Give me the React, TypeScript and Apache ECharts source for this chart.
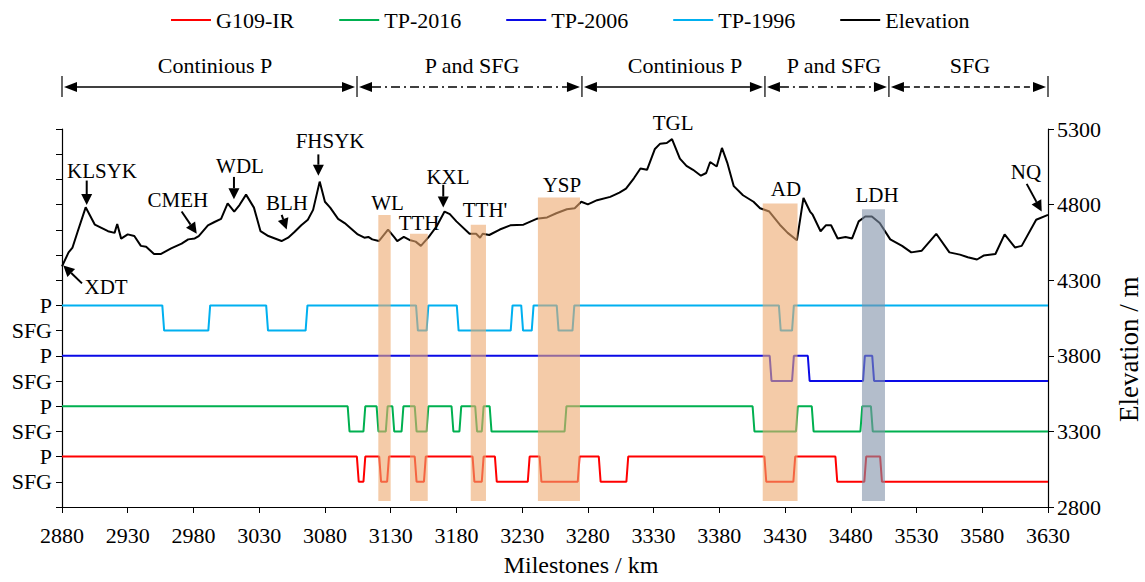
import React, { useEffect, useRef } from "react";
import * as echarts from "echarts";

const FONT = "'Liberation Serif', 'Times New Roman', serif";

// x axis
const KM_MIN = 2880;
const KM_MAX = 3630;
const KM_STEP = 50;
// right axis (elevation)
const ELEV_MIN = 2800;
const ELEV_MAX = 5300;
const ELEV_STEP = 500;
// left axis (state tracks), values 1..8
const TRACK_LABELS = ["SFG", "P", "SFG", "P", "SFG", "P", "SFG", "P"];

// elevation profile
const elevKm = [2880, 2885, 2888, 2892, 2898, 2905, 2910, 2915, 2920, 2922, 2925, 2930, 2935, 2940, 2944, 2950, 2955, 2963, 2971, 2976, 2981, 2984, 2991, 2996, 3001, 3006, 3011, 3015, 3020, 3026, 3031, 3037, 3042, 3047, 3052, 3057, 3062, 3067, 3071, 3076, 3080, 3084, 3090, 3095, 3100, 3105, 3110, 3113, 3116, 3121, 3128, 3133, 3135, 3140, 3145, 3149, 3153, 3159, 3165, 3171, 3175, 3180, 3190, 3195, 3198, 3200, 3205, 3213, 3221, 3231, 3241, 3249, 3256, 3264, 3270, 3275, 3280, 3287, 3297, 3304, 3309, 3315, 3320, 3325, 3331, 3335, 3340, 3344, 3350, 3355, 3360, 3366, 3370, 3373, 3378, 3382, 3386, 3391, 3398, 3406, 3411, 3418, 3426, 3432, 3439, 3444, 3449, 3451, 3457, 3461, 3465, 3470, 3476, 3481, 3486, 3491, 3496, 3502, 3510, 3519, 3526, 3534, 3545, 3555, 3563, 3569, 3576, 3581, 3590, 3597, 3605, 3610, 3621, 3630];
const elevM = [4391, 4484, 4516, 4624, 4782, 4667, 4646, 4624, 4613, 4672, 4575, 4603, 4592, 4527, 4521, 4473, 4473, 4510, 4542, 4570, 4576, 4592, 4663, 4685, 4706, 4808, 4754, 4797, 4866, 4780, 4624, 4592, 4576, 4559, 4581, 4620, 4663, 4700, 4765, 4952, 4819, 4780, 4706, 4678, 4641, 4603, 4581, 4586, 4570, 4559, 4635, 4581, 4559, 4586, 4564, 4555, 4527, 4586, 4657, 4754, 4737, 4689, 4607, 4607, 4581, 4607, 4599, 4635, 4663, 4667, 4706, 4715, 4743, 4769, 4776, 4819, 4801, 4829, 4851, 4879, 4905, 4974, 5039, 5030, 5168, 5203, 5207, 5233, 5104, 5056, 5030, 4991, 5009, 5082, 5052, 5175, 5078, 4922, 4862, 4819, 4776, 4754, 4667, 4613, 4564, 4844, 4754, 4733, 4624, 4663, 4663, 4576, 4586, 4576, 4689, 4721, 4721, 4678, 4570, 4527, 4484, 4495, 4607, 4484, 4469, 4452, 4437, 4463, 4473, 4603, 4516, 4527, 4700, 4732];

// SFG intervals [from km, to km] for each record (P elsewhere)
const sfgG109 = [[3105, 3110], [3122, 3128], [3149, 3156], [3193, 3200], [3210, 3235], [3244, 3273], [3289, 3310], [3415, 3437], [3469, 3491], [3503, 3630]];
const sfgTP2016 = [[3098, 3110], [3120, 3127], [3132, 3139], [3149, 3158], [3177, 3183], [3195, 3200], [3206, 3263], [3406, 3439], [3451, 3488], [3496, 3630]];
const sfgTP2006 = [[3419, 3436], [3448, 3490], [3497, 3630]];
const sfgTP1996 = [[2957, 2992], [3036, 3066], [3150, 3158], [3181, 3222], [3230, 3238], [3257, 3269], [3426, 3436]];

// track levels on the left axis [P, SFG]
const levelG109 = [2, 1];
const levelTP2016 = [4, 3];
const levelTP2006 = [6, 5];
const levelTP1996 = [8, 7];

const seriesNames = ["G109-IR", "TP-2016", "TP-2006", "TP-1996", "Elevation"];
const seriesColors = ["#FF0000", "#00B050", "#0A0AE6", "#00B0F0", "#000000"];

// highlighted zones: [from km, to km, bottom m, top m, kind 0=orange 1=grey]
const zoneFrom = [3120.6, 3144.7, 3190.9, 3242, 3413, 3488.5];
const zoneTo = [3130, 3158.2, 3202.5, 3274, 3439.5, 3506];
const zoneTop = [4732, 4607, 4667, 4847, 4808, 4769];
const zoneBottom = [2840, 2840, 2840, 2840, 2840, 2840];
const zoneKind = [0, 0, 0, 0, 0, 1];

// place-name annotations: text at [km, m]; optional arrow from -> tip
const placeNames = ["KLSYK", "XDT", "CMEH", "WDL", "BLH", "FHSYK", "WL", "TTH", "KXL", "TTH'", "YSP", "TGL", "AD", "LDH", "NQ"];
const placeTextKm = [2910.4, 2913.5, 2968.2, 3015.4, 3051.1, 3083.9, 3127.6, 3151.6, 3173.6, 3201.8, 3260.3, 3344.8, 3430.7, 3499.9, 3613.3];
const placeTextM = [5021, 4257, 4829, 5056, 4808, 5218, 4808, 4678, 4985, 4766, 4931, 5337, 4905, 4862, 5013];
const placeArrows: (number[] | null)[] = [
  [2898.8, 4959, 2898.8, 4797],
  [2895.2, 4279, 2881, 4398],
  [2971, 4754, 2982.5, 4607],
  [3010.8, 4983, 3010.8, 4836],
  [3047.1, 4732, 3050.9, 4635],
  [3075, 5132, 3075, 4991],
  null,
  null,
  [3170, 4931, 3170, 4780],
  null,
  null,
  null,
  null,
  null,
  [3613.8, 4937, 3625.2, 4754],
];

// top section ranges
const sectionBounds = [2880, 3104.4, 3275.5, 3414.7, 3509, 3630];
const sectionLabels = ["Continious P", "P and SFG", "Continious P", "P and SFG", "SFG"];
const sectionLabelKm = [2996.4, 3191.9, 3353.9, 3467.2, 3570.7];
const sectionStyles = ["solid", "dashdot", "solid", "dashdot", "dashed"];

function buildTrack(intervals: number[][], level: number[]) {
  const [hi, lo] = level;
  const pts: number[][] = [[KM_MIN, hi]];
  let state = hi;
  for (const [a, b] of intervals) {
    pts.push([a - 0.7, hi], [a + 0.7, lo]);
    state = lo;
    if (b < KM_MAX) {
      pts.push([b - 0.7, lo], [b + 0.7, hi]);
      state = hi;
    }
  }
  pts.push([KM_MAX, state]);
  return pts;
}

function arrowHead(x1: number, y1: number, x2: number, y2: number, len: number, half: number) {
  const dx = x2 - x1, dy = y2 - y1;
  const d = Math.sqrt(dx * dx + dy * dy) || 1;
  const ux = dx / d, uy = dy / d;
  const bx = x2 - ux * len, by = y2 - uy * len;
  const nx = -uy, ny = ux;
  return {
    base: [bx, by],
    points: [[x2, y2], [bx + nx * half, by + ny * half], [bx - nx * half, by - ny * half]],
  };
}

export default function App() {
  const ref = useRef<HTMLDivElement>(null);
  useEffect(() => {
    if (!ref.current) return;
    const chart = echarts.init(ref.current, undefined, { renderer: "svg" });
    const trackData = [
      buildTrack(sfgG109, levelG109),
      buildTrack(sfgTP2016, levelTP2016),
      buildTrack(sfgTP2006, levelTP2006),
      buildTrack(sfgTP1996, levelTP1996),
    ];
    const zoneData = zoneFrom.map((f, i) => [f, zoneTo[i], zoneBottom[i], zoneTop[i], zoneKind[i]]);
    const textStyle = { fontFamily: FONT, color: "#000" };

    const option: any = {
      animation: false,
      textStyle: { fontFamily: FONT },
      grid: { left: 62, right: 97, top: 129, bottom: 67 },
      legend: {
        left: 166,
        top: 4,
        itemWidth: 40,
        itemHeight: 2,
        itemGap: 45,
        icon: "rect",
        textStyle: { ...textStyle, fontSize: 22 },
        data: seriesNames,
      },
      xAxis: {
        type: "value",
        min: KM_MIN,
        max: KM_MAX,
        interval: KM_STEP,
        axisLine: { lineStyle: { color: "#000", width: 1.2 } },
        axisTick: { length: 6, lineStyle: { color: "#000" } },
        axisLabel: { ...textStyle, fontSize: 22, margin: 17, formatter: (v: number) => String(v) },
        splitLine: { show: false },
        name: "Milestones / km",
        nameLocation: "middle",
        nameGap: 46,
        nameTextStyle: { ...textStyle, fontSize: 24, padding: [0, 0, 0, 52] },
      },
      yAxis: [
        {
          type: "value",
          position: "left",
          min: 0,
          max: 15,
          interval: 1,
          axisLine: { show: true, lineStyle: { color: "#000", width: 1.2 } },
          axisTick: { show: true, length: 6, lineStyle: { color: "#000" } },
          axisLabel: {
            ...textStyle,
            fontSize: 22,
            margin: 10,
            formatter: (v: number) => (v >= 1 && v <= TRACK_LABELS.length ? TRACK_LABELS[v - 1] : ""),
          },
          splitLine: { show: false },
        },
        {
          type: "value",
          position: "right",
          min: ELEV_MIN,
          max: ELEV_MAX,
          interval: ELEV_STEP,
          axisLine: { show: true, lineStyle: { color: "#000", width: 1.2 } },
          axisTick: { show: true, length: 6, lineStyle: { color: "#000" } },
          axisLabel: { ...textStyle, fontSize: 22, margin: 9, formatter: (v: number) => String(v) },
          splitLine: { show: false },
        },
      ],
      series: [
        ...trackData.map((d, i) => ({
          name: seriesNames[i],
          type: "line",
          yAxisIndex: 0,
          data: d,
          showSymbol: false,
          symbol: "none",
          lineStyle: { color: seriesColors[i], width: 2 },
          itemStyle: { color: seriesColors[i] },
          z: 2,
        })),
        {
          name: seriesNames[4],
          type: "line",
          yAxisIndex: 1,
          data: elevKm.map((k, i) => [k, elevM[i]]),
          showSymbol: false,
          symbol: "none",
          lineStyle: { color: "#000", width: 2 },
          itemStyle: { color: "#000" },
          z: 2,
        },
        {
          name: "zones",
          type: "custom",
          yAxisIndex: 1,
          z: 5,
          encode: { x: [0, 1], y: [2, 3] },
          data: zoneData,
          renderItem: (params: any, api: any) => {
            const p0 = api.coord([api.value(0), api.value(3)]);
            const p1 = api.coord([api.value(1), api.value(2)]);
            const kind = api.value(4);
            return {
              type: "rect",
              shape: { x: p0[0], y: p0[1], width: p1[0] - p0[0], height: p1[1] - p0[1] },
              style: { fill: kind === 1 ? "rgba(128,145,168,0.6)" : "rgba(236,168,110,0.6)" },
            };
          },
        },
      ],
    };
    chart.setOption(option);

    const toPx = (km: number, m: number) =>
      chart.convertToPixel({ xAxisIndex: 0, yAxisIndex: 1 } as any, [km, m]) as number[];

    const graphics: any[] = [];
    const txt = (x: number, y: number, text: string, size: number, rotation = 0) => ({
      type: "text",
      x,
      y,
      rotation,
      style: {
        text,
        fontFamily: FONT,
        fontSize: size,
        fill: "#000",
        align: "center",
        verticalAlign: "middle",
      },
    });
    // place names
    placeNames.forEach((name, i) => {
      const p = toPx(placeTextKm[i], placeTextM[i]);
      graphics.push(txt(p[0], p[1], name, 21));
      const a = placeArrows[i];
      if (a) {
        const s = toPx(a[0], a[1]);
        const t = toPx(a[2], a[3]);
        const h = arrowHead(s[0], s[1], t[0], t[1], 11, 5.5);
        graphics.push({
          type: "line",
          shape: { x1: s[0], y1: s[1], x2: h.base[0], y2: h.base[1] },
          style: { stroke: "#000", lineWidth: 2 },
        });
        graphics.push({ type: "polygon", shape: { points: h.points }, style: { fill: "#000" } });
      }
    });

    // top section ranges
    const arrowY = 87;
    const barTop = 76;
    const barBottom = 97;
    sectionBounds.forEach((b) => {
      const x = toPx(b, ELEV_MAX)[0];
      graphics.push({
        type: "line",
        shape: { x1: x, y1: barTop, x2: x, y2: barBottom },
        style: { stroke: "#000", lineWidth: 1.2 },
      });
    });
    sectionLabels.forEach((lab, i) => {
      const x0 = toPx(sectionBounds[i], ELEV_MAX)[0] + 2;
      const x1 = toPx(sectionBounds[i + 1], ELEV_MAX)[0] - 2;
      const hl = arrowHead(x1 - 20, arrowY, x0, arrowY, 13, 5);
      const hr = arrowHead(x0 + 20, arrowY, x1, arrowY, 13, 5);
      const st = sectionStyles[i];
      const dash = st === "dashdot" ? [9, 4, 2, 4] : st === "dashed" ? [6, 4] : null;
      graphics.push({
        type: "line",
        shape: { x1: hl.base[0], y1: arrowY, x2: hr.base[0], y2: arrowY },
        style: { stroke: "#000", lineWidth: 1.5, lineDash: dash },
      });
      graphics.push({ type: "polygon", shape: { points: hl.points }, style: { fill: "#000" } });
      graphics.push({ type: "polygon", shape: { points: hr.points }, style: { fill: "#000" } });
      const cx = toPx(sectionLabelKm[i], ELEV_MAX)[0];
      graphics.push(txt(cx, 65, lab, 22));
    });

    // right axis name
    const mid = toPx(KM_MAX, 3843);
    graphics.push(txt(mid[0] + 81, mid[1], "Elevation / m", 27, Math.PI / 2));

    chart.setOption({ graphic: graphics });

    return () => chart.dispose();
  }, []);

  return (
    <div
      ref={ref}
      style={{ position: "fixed", left: 0, top: 0, width: 1145, height: 582, background: "#fff" }}
    />
  );
}
